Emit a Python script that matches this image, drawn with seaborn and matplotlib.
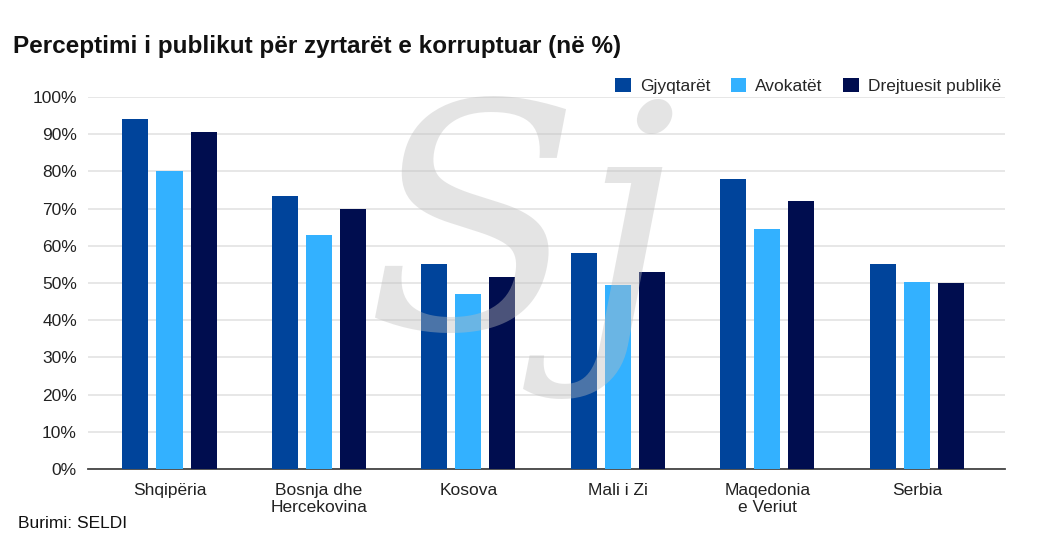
import pandas as pd
import matplotlib.pyplot as plt
import seaborn as sns

# data
countries = ['Shqipëria', 'Bosnja dhe\nHercekovina', 'Kosova', 'Mali i Zi', 'Maqedonia\ne Veriut', 'Serbia']
groups = ['Gjyqtarët', 'Avokatët', 'Drejtuesit publikë']
gjyqtaret = [94, 73.5, 55, 58, 78, 55]
avokatet = [80, 63, 47, 49.5, 64.5, 50.3]
drejtuesit = [90.7, 69.8, 51.7, 53, 72, 50]
colors = ['#00449b', '#33b1ff', '#000d4f']

df = pd.DataFrame({'country': countries * 3,
                   'group': [groups[0]] * 6 + [groups[1]] * 6 + [groups[2]] * 6,
                   'value': gjyqtaret + avokatet + drejtuesit})

sns.set_style('white')
plt.rcParams['font.family'] = ['Liberation Sans', 'DejaVu Sans']

fig = plt.figure(figsize=(10.43, 5.5), dpi=100)
ax = fig.add_axes([0.0844, 0.1473, 0.8792, 0.6763])

sns.barplot(data=df, x='country', y='value', hue='group', hue_order=groups,
            palette=colors, width=0.683, gap=0.235, saturation=1, linewidth=0,
            ax=ax, zorder=3)

ax.set_ylim(0, 100)
ax.set_xlim(-0.545, 5.59)
ax.set_yticks(range(0, 101, 10))
ax.set_yticklabels([f'{v}%' for v in range(0, 101, 10)])
ax.yaxis.grid(True, color='#e3e3e3', linewidth=1.2, zorder=0)
ax.set_axisbelow(True)
for s in ['top', 'right', 'left']:
    ax.spines[s].set_visible(False)
ax.spines['bottom'].set_color('#444444')
ax.spines['bottom'].set_linewidth(1.3)
ax.tick_params(axis='both', length=0, labelsize=12.5, colors='#222222')
ax.tick_params(axis='x', pad=10)
ax.tick_params(axis='y', pad=8)
ax.set_xlabel('')
ax.set_ylabel('')

# watermark logo (approximated as text)
fig.text(0.50, 0.55, 'Sj', fontsize=225, family='DejaVu Serif', style='italic',
         color='#bdbdbd', alpha=0.4, ha='center', va='center', zorder=10)

leg = ax.legend(loc='lower right', bbox_to_anchor=(1.005, 0.985), ncol=3, frameon=False,
                fontsize=12.5, handlelength=0.9, handleheight=0.9, handletextpad=0.5,
                columnspacing=1.2, borderaxespad=0.1)

fig.text(0.012, 0.915, 'Perceptimi i publikut për zyrtarët e korruptuar (në %)',
         fontsize=17.5, fontweight='bold', color='#111111', va='center')
fig.text(0.017, 0.049, 'Burimi: SELDI', fontsize=12.5, color='#111111', va='center')

fig.savefig('out.png', dpi=100)
